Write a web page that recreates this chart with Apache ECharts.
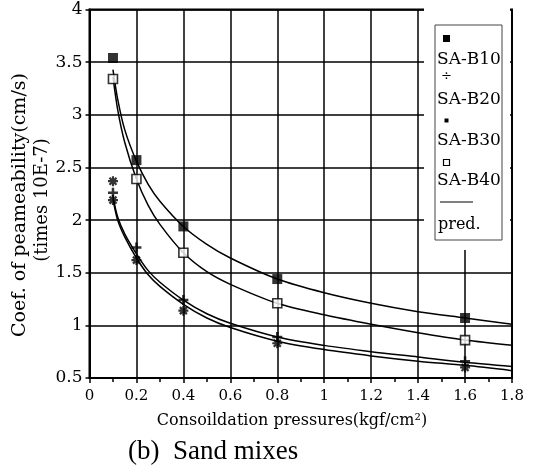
<!DOCTYPE html>
<html>
<head>
<meta charset="utf-8">
<script src="https://cdn.jsdelivr.net/npm/echarts@6/dist/echarts.min.js"></script>
<style>
  html, body { margin: 0; padding: 0; background: #fff; }
  #chart { width: 533px; height: 465px; }
</style>
</head>
<body>
<div id="chart"></div>
<script>
// measured points (consolidation pressure, kgf/cm2)
var pressures = [0.1, 0.2, 0.4, 0.8, 1.6];
var sab10 = [3.54, 2.57, 1.94, 1.44, 1.07];
var sab20 = [2.26, 1.74, 1.24, 0.89, 0.66];
var sab30x = [0.1, 0.1, 0.2, 0.4, 0.8, 1.6];
var sab30 = [2.37, 2.19, 1.62, 1.14, 0.83, 0.60];
var sab40 = [3.34, 2.39, 1.69, 1.21, 0.86];

// predicted curves
var predX = [0.1, 0.12, 0.15, 0.2, 0.25, 0.3, 0.4, 0.5, 0.6, 0.8, 1.0, 1.2, 1.4, 1.6, 1.8];
var predB10 = [3.43, 3.15, 2.86, 2.56, 2.34, 2.18, 1.94, 1.77, 1.64, 1.44, 1.31, 1.21, 1.13, 1.07, 1.01];
var predB40 = [3.36, 3.05, 2.74, 2.39, 2.14, 1.96, 1.69, 1.51, 1.39, 1.21, 1.10, 1.01, 0.93, 0.86, 0.81];
var predB20 = [2.22, 2.03, 1.87, 1.68, 1.52, 1.41, 1.24, 1.11, 1.02, 0.89, 0.81, 0.75, 0.70, 0.65, 0.61];
var predB30 = [2.20, 2.00, 1.84, 1.64, 1.48, 1.37, 1.20, 1.07, 0.98, 0.85, 0.77, 0.71, 0.66, 0.62, 0.57];

var xTicks = ["0", "0.2", "0.4", "0.6", "0.8", "1", "1.2", "1.4", "1.6", "1.8"];

function pairs(xs, ys) {
  return ys.map(function (v, i) { return [xs[i], v]; });
}

var plusPath = "path://M5,0L5,10M0,5L10,5";
var starPath = "path://M5,0L5,10M0,5L10,5M1.5,1.5L8.5,8.5M8.5,1.5L1.5,8.5";
var serif = "DejaVu Serif";

function predLine(ys) {
  return {
    type: "line", smooth: 0.3, symbol: "none",
    data: pairs(predX, ys), lineStyle: { color: "#000", width: 1.5 }, z: 3
  };
}

var chart = echarts.init(document.getElementById("chart"));

var option = {
  animation: false,
  grid: {
    left: 89.5,
    right: 21,
    top: 9.6,
    bottom: 87,
    show: true,
    borderColor: "#000",
    borderWidth: 2
  },
  xAxis: {
    type: "value",
    min: 0,
    max: 1.8,
    interval: 0.2,
    axisLine: { lineStyle: { color: "#000", width: 2 } },
    axisTick: { show: true, length: 5, lineStyle: { color: "#000", width: 1.5 } },
    minorTick: { show: true, splitNumber: 2, length: 4, lineStyle: { color: "#000", width: 1.5 } },
    axisLabel: {
      color: "#000",
      fontFamily: serif,
      fontSize: 15,
      margin: 11,
      formatter: function (v) { return xTicks[Math.round(v / 0.2)]; }
    },
    splitLine: { show: true, lineStyle: { color: "#000", width: 1.5 } }
  },
  yAxis: {
    type: "value",
    min: 0.5,
    max: 4,
    interval: 0.5,
    axisLine: { show: true, lineStyle: { color: "#000", width: 2 } },
    axisTick: { show: true, length: 4, lineStyle: { color: "#000", width: 1.5 } },
    axisLabel: { color: "#000", fontFamily: serif, fontSize: 17, margin: 7 },
    splitLine: { show: true, lineStyle: { color: "#000", width: 1.5 } }
  },
  series: [
    predLine(predB10),
    predLine(predB40),
    predLine(predB20),
    predLine(predB30),
    { name: "SA-B10", type: "scatter", symbol: "rect", symbolSize: 10,
      itemStyle: { color: "#000" }, data: pairs(pressures, sab10), z: 5 },
    { name: "SA-B20", type: "scatter", symbol: plusPath, symbolSize: 10,
      itemStyle: { color: "none", borderColor: "#000", borderWidth: 2.5 },
      data: pairs(pressures, sab20), z: 5 },
    { name: "SA-B30", type: "scatter", symbol: starPath, symbolSize: 10,
      itemStyle: { color: "none", borderColor: "#000", borderWidth: 2.2 },
      data: pairs(sab30x, sab30), z: 5 },
    { name: "SA-B40", type: "scatter", symbol: "rect", symbolSize: 9,
      itemStyle: { color: "#fff", borderColor: "#000", borderWidth: 1.6 },
      data: pairs(pressures, sab40), z: 5 }
  ],
  graphic: [
    // white patch behind the legend box
    { type: "rect", shape: { x: 424, y: 0, width: 86, height: 250 },
      style: { fill: "#fff" }, z: 10 },
    { type: "rect", shape: { x: 435, y: 25, width: 67, height: 215 },
      style: { fill: "#fff", stroke: "#444", lineWidth: 1 }, z: 11 },
    { type: "rect", shape: { x: 443, y: 35, width: 7, height: 7 },
      style: { fill: "#000" }, z: 12 },
    { type: "text", left: 437, top: 51,
      style: { text: "SA-B10", fill: "#000", font: "17px DejaVu Serif" }, z: 12 },
    { type: "text", left: 441, top: 70,
      style: { text: "÷", fill: "#000", font: "13px DejaVu Serif" }, z: 12 },
    { type: "text", left: 437, top: 91,
      style: { text: "SA-B20", fill: "#000", font: "17px DejaVu Serif" }, z: 12 },
    { type: "rect", shape: { x: 444.5, y: 118.5, width: 4, height: 4 },
      style: { fill: "#000" }, z: 12 },
    { type: "text", left: 437, top: 132,
      style: { text: "SA-B30", fill: "#000", font: "17px DejaVu Serif" }, z: 12 },
    { type: "rect", shape: { x: 443.5, y: 159.5, width: 6, height: 6 },
      style: { fill: "#fff", stroke: "#000", lineWidth: 1.2 }, z: 12 },
    { type: "text", left: 437, top: 172,
      style: { text: "SA-B40", fill: "#000", font: "17px DejaVu Serif" }, z: 12 },
    { type: "line", shape: { x1: 440, y1: 202, x2: 473, y2: 202 },
      style: { stroke: "#000", lineWidth: 1 }, z: 12 },
    { type: "text", left: 438, top: 217,
      style: { text: "pred.", fill: "#000", font: "16px DejaVu Serif" }, z: 12 },
    // axis titles
    { type: "text", x: 20, y: 205, rotation: Math.PI / 2,
      style: { text: "Coef. of peameability(cm/s)", fill: "#000", font: "19px DejaVu Serif",
               align: "center", verticalAlign: "middle" } },
    { type: "text", x: 42, y: 200, rotation: Math.PI / 2,
      style: { text: "(times 10E-7)", fill: "#000", font: "18px DejaVu Serif",
               align: "center", verticalAlign: "middle" } },
    { type: "text", x: 292, y: 421,
      style: { text: "Consoildation pressures(kgf/cm²)", fill: "#000", font: "16px DejaVu Serif",
               align: "center", verticalAlign: "middle" } },
    { type: "text", x: 128, y: 452,
      style: { text: "(b)  Sand mixes", fill: "#000", font: "27px Liberation Serif",
               align: "left", verticalAlign: "middle" } }
  ]
};

chart.setOption(option);
</script>
</body>
</html>
